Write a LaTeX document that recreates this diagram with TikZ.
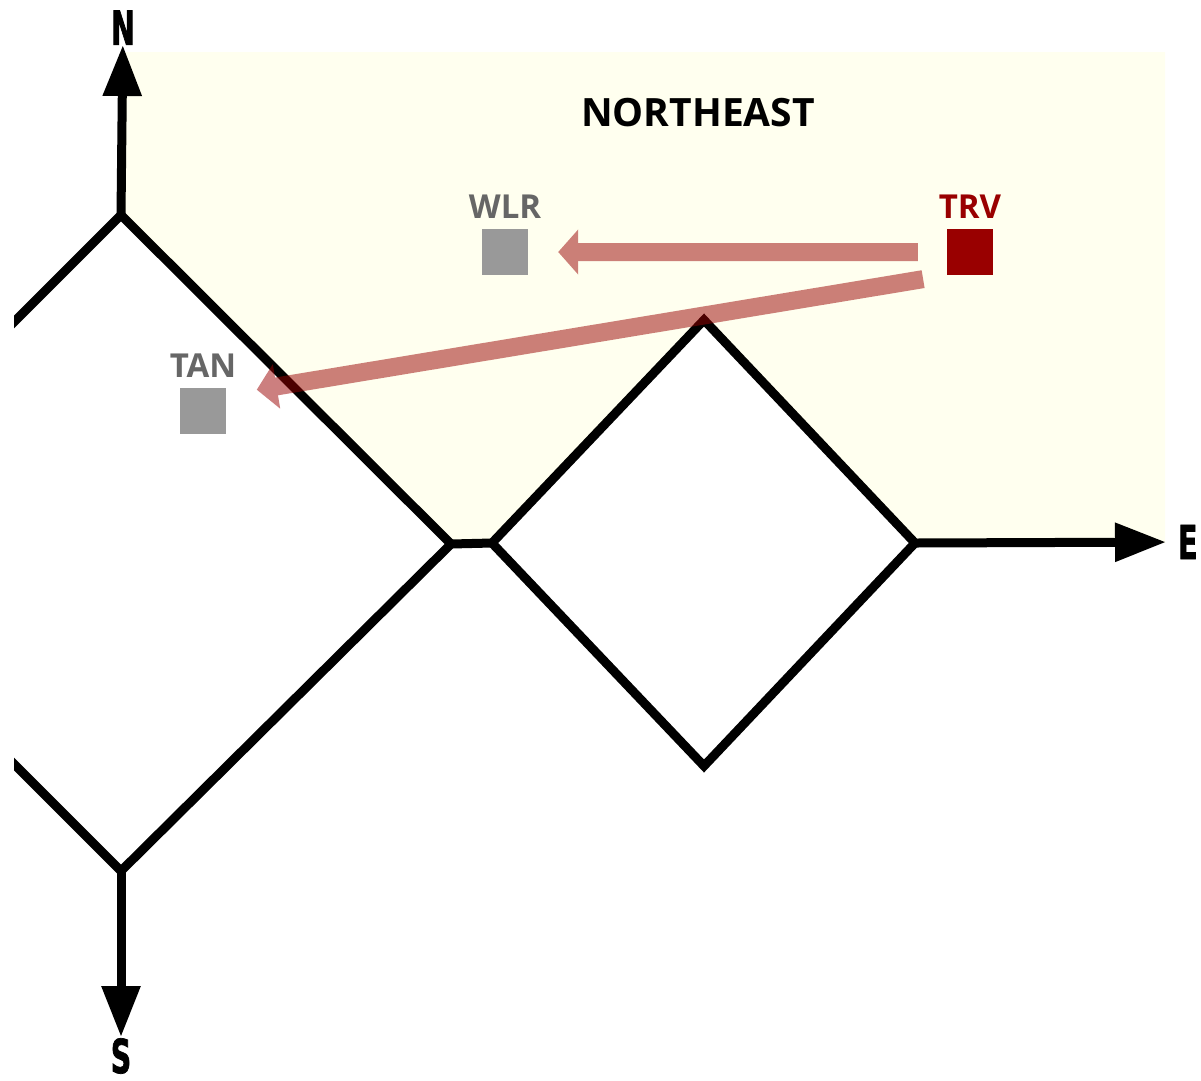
\documentclass[tikz,border=0pt]{standalone}
\usepackage{fontspec}
\usetikzlibrary{positioning,arrows.meta,calc}
\newfontfamily\labelfont{Open Sans}
\newfontfamily\compassfont{DejaVu Sans}[FakeStretch=0.6,FakeBold=1.5]
\definecolor{ivory}{HTML}{FFFFEF}
\definecolor{trvred}{HTML}{990000}
\definecolor{stngray}{HTML}{999999}
\definecolor{txtgray}{HTML}{666666}
\tikzset{
  road/.style={line width=9pt,black},
  axis/.style={line width=9pt,black,-{Triangle[length=51pt,width=37pt]}},
  compass/.style={inner sep=0pt,font=\compassfont\bfseries\fontsize{47}{47}\selectfont},
  station/.style={minimum size=46pt,inner sep=0pt},
  stnlabel/.style={inner sep=0pt,font=\labelfont\bfseries\fontsize{33}{36}\selectfont},
  flow/.style={line width=18pt,trvred,-{Triangle[length=20pt,width=44pt]}}
}
\begin{document}
\begin{tikzpicture}[x=1pt,y=-1pt]
\useasboundingbox (0,0) rectangle (1201,1080);
\coordinate (w1) at (0,336);
\coordinate (nw) at (121,215);
\coordinate (c1) at (451,544);
\coordinate (sw) at (121,871);
\coordinate (w2) at (0,750);
\coordinate (c2) at (492,543);
\coordinate (dn) at (704,320);
\coordinate (de) at (915,543);
\coordinate (ds) at (704,766);

% northeast quadrant
\fill[ivory] (122,52) -- (1165,52) -- (1165,543) -- (de) -- (dn) -- (c2) -- (c1) -- (nw) -- cycle;
\node[inner sep=0pt,font=\labelfont\bfseries\fontsize{39}{48}\selectfont] (ne) at (698,113) {NORTHEAST};

\node[compass,anchor=south] (N) at (123,45) {N};
\node[compass,anchor=west] (E) at (1178,542) {E};
\node[compass,anchor=north] (S) at (121,1038) {S};

\begin{scope}
\clip (14,0) rectangle (1201,1080);
\path[draw,road] (w1) -- (nw) -- (c1) -- (sw) -- (w2);
\end{scope}
\path[draw,road] (c1) -- (c2);
\path[draw,road] (c2) -- (dn) -- (de) -- (ds) -- cycle;
\path[draw,axis] (nw) -- (N);
\path[draw,axis,shorten >=12pt] (de) -- (E);
\path[draw,axis,shorten >=1pt] (sw) -- (S);

\node[station,fill=stngray] (wlr) at (505,252) {};
\node[station,fill=trvred] (trv) at (970,252) {};
\node[station,fill=stngray] (tan) at (203,411) {};
\node[stnlabel,text=txtgray,above=10pt of wlr] (wlrlbl) {WLR};
\node[stnlabel,text=trvred,above=10pt of trv] (trvlbl) {TRV};
\node[stnlabel,text=txtgray,above=10pt of tan] (tanlbl) {TAN};

\begin{scope}[transparency group,opacity=0.5]
\path[draw,flow,shorten <=29pt,shorten >=30pt] (trv.west) -- (wlr.east);
\path[draw,flow,shorten <=24pt,shorten >=31pt] (trv.south west) -- ($(tan.east)!0.7!(tan.north east)$);
\end{scope}
\end{tikzpicture}
\end{document}
